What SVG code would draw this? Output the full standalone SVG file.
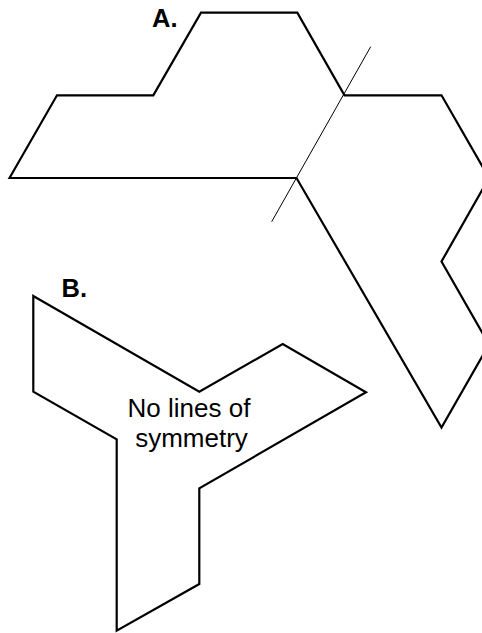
<svg xmlns="http://www.w3.org/2000/svg" width="482" height="633" viewBox="0 0 482 633">
<style>
.shape{fill:none;stroke:#000;stroke-width:2.2;stroke-linejoin:miter}
.axis{fill:none;stroke:#000;stroke-width:1}
.lbl{font-family:"Liberation Sans",Arial,Helvetica,sans-serif;font-size:25.5px;font-weight:bold;fill:#000}
.txt{font-family:"Liberation Sans",Arial,Helvetica,sans-serif;font-size:26px;fill:#000;text-anchor:middle}
</style>
<rect width="482" height="633" fill="#fff"/>
<g id="shapeA">
<polygon class="shape" points="9.5,178 57,95.3 153.3,95.3 201,12.7 297.3,12.7 344.5,95.3 441.5,95.3 489,178 441.5,261.5 489,344.5 441.5,427.5 296.5,178"/>
<text class="lbl" x="152" y="26.7">A.</text>
</g>
<g id="connectors">
<line class="axis" x1="370.7" y1="46.7" x2="271.7" y2="221.7"/>
</g>
<g id="shapeB">
<polygon class="shape" points="33.3,296 199.3,391.7 282.7,344 366,392.3 199.3,488.3 199.3,584 116.7,630.7 116.7,439.3 33.3,391.7"/>
<text class="lbl" x="61.5" y="296.7">B.</text>
<text class="txt" x="189" y="416.7">No lines of</text>
<text class="txt" x="191.5" y="446.7">symmetry</text>
</g>
</svg>
